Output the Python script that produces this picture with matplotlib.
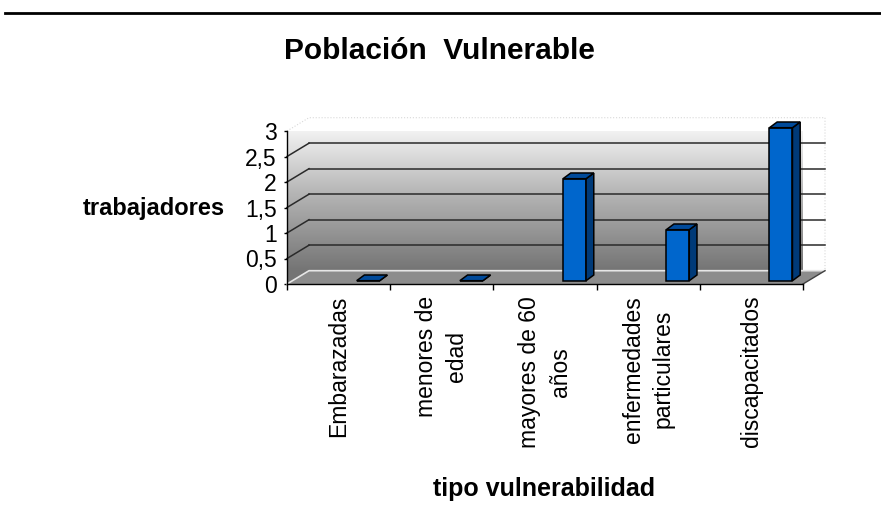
import matplotlib
matplotlib.use('Agg')
import matplotlib.pyplot as plt
import numpy as np
from matplotlib.patches import Polygon
from matplotlib.colors import LinearSegmentedColormap
from matplotlib.ticker import FuncFormatter

plt.rcParams['font.family'] = ['Liberation Sans', 'DejaVu Sans']

# datos
categorias = ['Embarazadas', 'menores de\nedad', 'mayores de 60\naños',
              'enfermedades\nparticulares', 'discapacitados']
trabajadores = [0, 0, 2, 1, 3]
y_ticks = [0, 0.5, 1, 1.5, 2, 2.5, 3]

titulo = 'Población  Vulnerable'
etiqueta_x = 'tipo vulnerabilidad'
etiqueta_y = 'trabajadores'

# colores de las barras
c_frente = '#0066cc'
c_arriba = '#004a9a'
c_lado = '#003a78'

fig = plt.figure(figsize=(8.81, 5.30), dpi=100)
ax = fig.add_axes([287 / 881, 246 / 530, 516 / 881, 153 / 530])

n = len(categorias)
ymax = y_ticks[-1]
ax.set_xlim(0, n)
ax.set_ylim(0, ymax)

# profundidad del efecto 3D (en unidades de datos)
px_x = 516 / n
px_y = 153 / ymax
dx = 22 / px_x
dy = 13.3 / px_y

# paredes con degradado (lateral + fondo)
gris = LinearSegmentedColormap.from_list('pared', ['#747474', '#b4b4b4', '#ffffff'])
grad = np.linspace(0, 1, 256).reshape(-1, 1)
pared = Polygon([(0, 0), (0, ymax), (dx, ymax + dy), (n + dx, ymax + dy),
                 (n + dx, dy), (dx, dy)], closed=True, transform=ax.transData)
im = ax.imshow(grad, extent=[0, n + dx, dy, ymax + dy], origin='lower',
               aspect='auto', cmap=gris, zorder=0, clip_on=True)
im.set_clip_path(pared)
# parte baja de la pared lateral
ax.add_patch(Polygon([(0, 0), (dx, dy), (0, dy)], closed=True,
                     facecolor='#747474', edgecolor='none', zorder=0.5))

# bordes claros de las paredes
ax.plot([0, dx, n + dx, n + dx], [ymax, ymax + dy, ymax + dy, dy],
        color='#d8d8d8', lw=0.8, ls=':', clip_on=False, zorder=1)

# lineas de division
for v in y_ticks[1:-1]:
    ax.plot([dx, n + dx], [v + dy, v + dy], color='#2a2a2a', lw=1.1,
            clip_on=False, zorder=1)
    ax.plot([0, dx], [v, v + dy], color='#2a2a2a', lw=1.1,
            clip_on=False, zorder=1)

# piso
piso = Polygon([(0, 0), (n, 0), (n + dx, dy), (dx, dy)], closed=True,
               facecolor='#8c8c8c', edgecolor='none', clip_on=False, zorder=1.5)
ax.add_patch(piso)
ax.plot([0, dx, n + dx], [0, dy, dy], color='#e6e6e6', lw=1.2,
        clip_on=False, zorder=1.6)
ax.plot([n, n + dx], [0, dy], color='#404040', lw=1.0,
        clip_on=False, zorder=1.6)

# barras 3D
x_ini = 0.675
ancho = 0.223
base = 3.3 / px_y
bdx = 7.7 / px_x
bdy = 5.7 / px_y
for i, v in enumerate(trabajadores):
    x0 = i + x_ini
    x1 = x0 + ancho
    y0 = base
    y1 = base + v
    caras = [
        ([(x0, y0), (x1, y0), (x1, y1), (x0, y1)], c_frente),
        ([(x1, y0), (x1 + bdx, y0 + bdy), (x1 + bdx, y1 + bdy), (x1, y1)], c_lado),
        ([(x0, y1), (x1, y1), (x1 + bdx, y1 + bdy), (x0 + bdx, y1 + bdy)], c_arriba),
    ]
    for pts, col in caras:
        ax.add_patch(Polygon(pts, closed=True, facecolor=col, edgecolor='black',
                             lw=1.1, joinstyle='miter', clip_on=False, zorder=3))

# ejes
for s in ['top', 'right']:
    ax.spines[s].set_visible(False)
for s in ['left', 'bottom']:
    ax.spines[s].set_linewidth(1.0)
    ax.spines[s].set_zorder(2)

ax.set_xticks(range(n + 1))
ax.set_xticklabels([])
ax.set_xticks([i + 0.5 for i in range(n)], minor=True)
ax.set_xticklabels(categorias, minor=True, rotation=90, fontsize=16.5,
                   linespacing=1.4)
ax.tick_params(axis='x', which='major', length=4.5, width=1.0, direction='out')
ax.tick_params(axis='x', which='minor', length=0, pad=8.5)

ax.set_yticks(y_ticks)
ax.yaxis.set_major_formatter(FuncFormatter(lambda v, p: ('%g' % v).replace('.', ',')))
ax.tick_params(axis='y', length=2.5, width=1.0, pad=5, labelsize=16.5)

ax.set_xlabel(etiqueta_x, fontsize=18, fontweight='bold')
ax.xaxis.set_label_coords((543.7 - 287) / 516, (284 - 489) / 153)
ax.xaxis.label.set_va('center')
ax.set_ylabel(etiqueta_y, fontsize=17, fontweight='bold', rotation=0,
              ha='center', va='center')
ax.yaxis.set_label_coords((154 - 287) / 516, (284 - 209) / 153)

fig.text(439 / 881, 1 - 51 / 530, titulo, ha='center', va='center',
         fontsize=21.5, fontweight='bold')

# linea superior
fig.add_artist(plt.Line2D([5 / 881, 1], [1 - 13 / 530, 1 - 13 / 530],
                          color='black', lw=2.0, transform=fig.transFigure))

fig.savefig('out.png', dpi=100)
